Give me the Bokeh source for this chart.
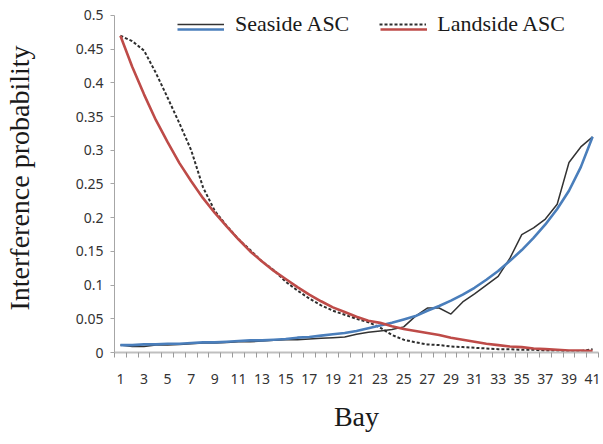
from bokeh.plotting import figure
from bokeh.models import (FixedTicker, CustomJSTickFormatter, Legend, LegendItem, Range1d)
from bokeh.embed import file_html
from bokeh.resources import INLINE

bays = list(range(1, 42))

seaside_asc = [0.011, 0.009, 0.009, 0.011, 0.011, 0.012, 0.013, 0.014, 0.014, 0.015,
               0.016, 0.016, 0.017, 0.018, 0.019, 0.019, 0.020, 0.021, 0.022, 0.023,
               0.027, 0.030, 0.032, 0.034, 0.038, 0.054, 0.066, 0.066, 0.057, 0.075,
               0.087, 0.100, 0.113, 0.140, 0.175, 0.185, 0.198, 0.220, 0.282, 0.305,
               0.320]

landside_asc = [0.470, 0.462, 0.448, 0.415, 0.378, 0.340, 0.300, 0.245, 0.210, 0.188,
                0.168, 0.152, 0.135, 0.122, 0.105, 0.092, 0.080, 0.070, 0.062, 0.056,
                0.050, 0.045, 0.037, 0.026, 0.019, 0.015, 0.012, 0.011, 0.009, 0.008,
                0.007, 0.006, 0.005, 0.005, 0.004, 0.004, 0.003, 0.003, 0.002, 0.002,
                0.005]

seaside_trend = [0.011, 0.011, 0.012, 0.012, 0.013, 0.013, 0.014, 0.015, 0.015, 0.016,
                 0.017, 0.018, 0.018, 0.019, 0.020, 0.022, 0.023, 0.025, 0.027, 0.029,
                 0.032, 0.036, 0.040, 0.044, 0.049, 0.054, 0.062, 0.069, 0.077, 0.086,
                 0.096, 0.108, 0.121, 0.136, 0.152, 0.170, 0.190, 0.213, 0.240, 0.275,
                 0.320]

landside_trend = [0.470, 0.424, 0.383, 0.345, 0.312, 0.281, 0.254, 0.229, 0.207, 0.187,
                  0.168, 0.150, 0.135, 0.121, 0.109, 0.097, 0.086, 0.076, 0.067, 0.060,
                  0.053, 0.047, 0.044, 0.039, 0.035, 0.032, 0.029, 0.026, 0.022, 0.019,
                  0.016, 0.013, 0.011, 0.009, 0.008, 0.006, 0.005, 0.004, 0.003, 0.003,
                  0.002]

x_label_bays = [1, 3, 5, 7, 9, 11, 13, 15, 17, 19, 21, 23, 25, 27, 29, 31, 33, 35, 37, 39, 41]
y_ticks = [0, 0.05, 0.1, 0.15, 0.2, 0.25, 0.3, 0.35, 0.4, 0.45, 0.5]

series_names = ["Seaside ASC", "Landside ASC"]

p = figure(width=603, height=444, output_backend="svg", toolbar_location=None,
           x_range=Range1d(0.5, 41.5), y_range=Range1d(0, 0.5178),
           min_border_left=112, min_border_right=5, min_border_top=3, min_border_bottom=92)
p.outline_line_color = None
p.xgrid.visible = False
p.ygrid.visible = False
p.background_fill_color = "white"

r_sea = p.line(bays, seaside_asc, line_color="#333333", line_width=1.5)
r_land = p.line(bays, landside_asc, line_color="#2e2e2e", line_width=2.0, line_dash="3 2")
r_sea_fit = p.line(bays, seaside_trend, line_color="#4a7ebb", line_width=2.6)
r_land_fit = p.line(bays, landside_trend, line_color="#be4b48", line_width=2.6)

# x axis
minor = [b - 0.5 for b in bays] + [bays[-1] + 0.5]
p.xaxis.ticker = FixedTicker(ticks=x_label_bays, minor_ticks=minor)
p.xaxis.axis_line_color = "#bfbfbf"
p.xaxis.axis_line_width = 2
p.xaxis.major_tick_line_alpha = 0
p.xaxis.major_tick_out = 5
p.xaxis.major_tick_in = 0
p.xaxis.minor_tick_out = 5
p.xaxis.minor_tick_in = 0
p.xaxis.minor_tick_line_color = "#9a9a9a"
p.xaxis.major_label_standoff = 16
p.xaxis.major_label_text_font = "Noto Sans"
p.xaxis.major_label_text_font_size = "14px"
p.xaxis.major_label_text_color = "#333333"
p.xaxis.axis_label = "Bay"
p.xaxis.axis_label_text_font = "Liberation Serif"
p.xaxis.axis_label_text_font_style = "normal"
p.xaxis.axis_label_text_font_size = "28px"
p.xaxis.axis_label_text_color = "#1a1a1a"
p.xaxis.axis_label_standoff = 14

# y axis
p.yaxis.ticker = FixedTicker(ticks=y_ticks)
p.yaxis.bounds = (y_ticks[0], y_ticks[-1])
p.yaxis.formatter = CustomJSTickFormatter(
    code="return tick.toFixed(2).replace(/0+$/, '').replace(/\\.$/, '');")
p.yaxis.axis_line_color = "#a6a6a6"
p.yaxis.major_tick_line_color = "#a6a6a6"
p.yaxis.major_tick_out = 4
p.yaxis.major_tick_in = 0
p.yaxis.minor_tick_line_alpha = 0
p.yaxis.major_label_standoff = 7
p.yaxis.major_label_text_font = "Noto Sans"
p.yaxis.major_label_text_font_size = "14px"
p.yaxis.major_label_text_color = "#333333"
p.yaxis.axis_label = "Interference probability"
p.yaxis.axis_label_text_font = "Liberation Serif"
p.yaxis.axis_label_text_font_style = "normal"
p.yaxis.axis_label_text_font_size = "28px"
p.yaxis.axis_label_text_color = "#1a1a1a"
p.yaxis.axis_label_standoff = 38

def style_legend(lg):
    lg.orientation = "horizontal"
    lg.padding = 0
    lg.margin = 0
    lg.border_line_alpha = 0
    lg.background_fill_alpha = 0
    lg.glyph_width = 47
    lg.glyph_height = 24
    lg.label_height = 24
    lg.label_standoff = 11
    lg.label_text_font = "Liberation Serif"
    lg.label_text_font_size = "22px"
    lg.label_text_color = "#1a1a1a"

leg_a = Legend(items=[LegendItem(label=series_names[0], renderers=[r_sea]),
                      LegendItem(label=series_names[1], renderers=[r_land])],
               location=(63, 315))
style_legend(leg_a)
leg_a.spacing = 30

leg_b = Legend(items=[LegendItem(label="", renderers=[r_sea_fit]),
                      LegendItem(label="", renderers=[r_land_fit])],
               location=(63, 311))
style_legend(leg_b)
leg_b.label_width = 0
leg_b.label_standoff = 0
leg_b.spacing = 156

p.add_layout(leg_a)
p.add_layout(leg_b)

open("out.html", "w").write(file_html(p, INLINE))
